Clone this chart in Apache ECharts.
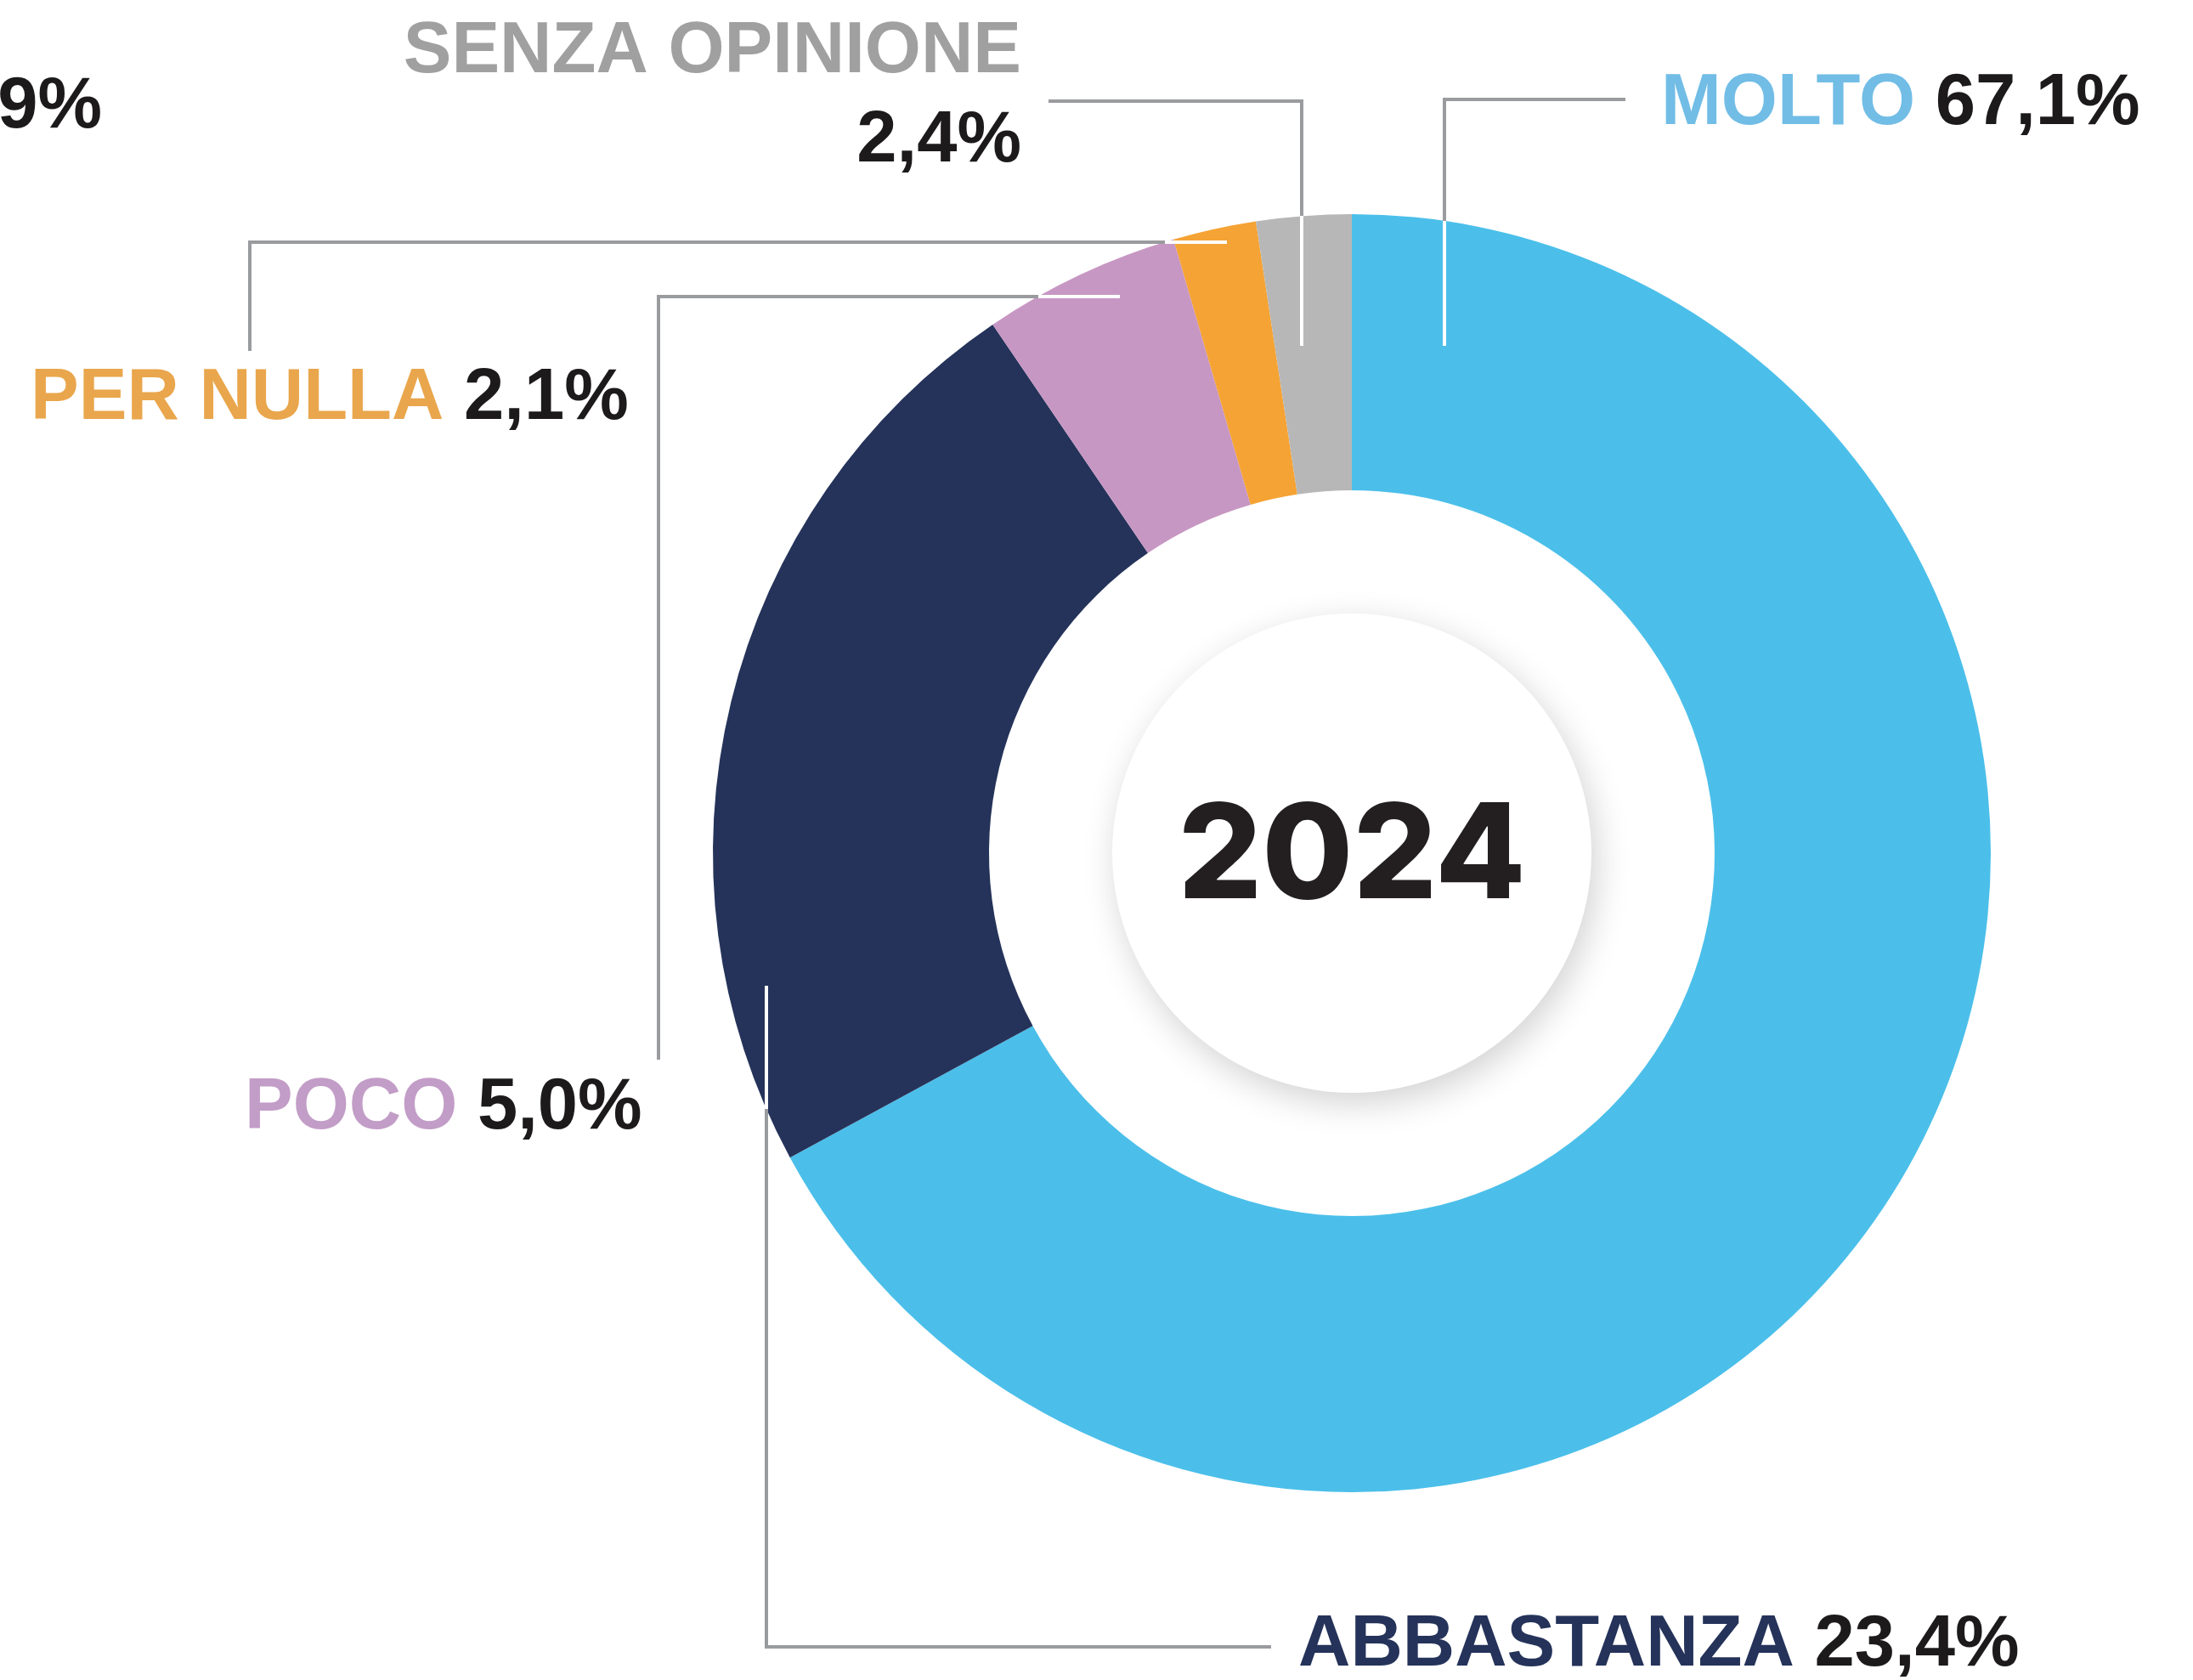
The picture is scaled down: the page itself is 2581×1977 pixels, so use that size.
<!DOCTYPE html>
<html>
<head>
<meta charset="utf-8">
<script src="https://cdn.jsdelivr.net/npm/echarts@6/dist/echarts.min.js"></script>
<style>html,body{margin:0;padding:0;background:#fff}#c{width:2581px;height:1977px}</style>
</head>
<body>
<div id="c"></div>
<script>
// ---- data ----
const categories = ['MOLTO', 'ABBASTANZA', 'POCO', 'PER NULLA', 'SENZA OPINIONE'];
const values = [67.1, 23.4, 5.0, 2.1, 2.4];
const yearLabel = '2024';
const partialLabel = '9%';

// ---- styles ----
const sliceColors = ['#4BBFEA', '#25335A', '#C797C3', '#F5A334', '#B7B7B7'];
const nameColors = ['#71BDE6', '#25335A', '#C29DC7', '#E9A64C', '#A0A0A0'];
const valueColor = '#1C1A1B';
const lineGray = '#9A9B9F';
const FONT = '"Liberation Sans", Arial, sans-serif';
const FS = 85;
const CX = 1591, CY = 1004, R_IN = 427, R_OUT = 752, R_HUB = 282;

// label anchors (layout)
const labelPos = [
  {x: 1955, y: 123, align: 'left'},
  {x: 1528, y: 1937, align: 'left'},
  {x: 288, y: 1305, align: 'left'},
  {x: 36, y: 470, align: 'left'},
  {x: 1202, y: 114, align: 'right'}
];
// leader lines (layout)
const grayLines = [
  [[1700, 260], [1700, 117], [1913, 117]],
  [[902, 1305], [902, 1938], [1496, 1938]],
  [[1222, 349], [775, 349], [775, 1247]],
  [[1371, 285], [294, 285], [294, 413]],
  [[1532, 254], [1532, 119], [1234, 119]]
];
const whiteLines = [
  [[1700, 260], [1700, 407]],
  [[902, 1160], [902, 1305]],
  [[1222, 349], [1318, 349]],
  [[1371, 285], [1444, 285]],
  [[1532, 254], [1532, 407]]
];

const fmt = v => v.toFixed(1).replace('.', ',') + '%';

const rich = { v: {color: valueColor, fontSize: FS, fontWeight: 'bold', fontFamily: FONT, lineHeight: 105} };
nameColors.forEach((c, i) => {
  rich['n' + i] = {color: c, fontSize: FS, fontWeight: 'bold', fontFamily: FONT, lineHeight: 105};
});

const chart = echarts.init(document.getElementById('c'), null, {renderer: 'canvas'});

const graphics = [];
grayLines.forEach(pts => graphics.push({
  type: 'polyline', silent: true, z: 100,
  shape: {points: pts},
  style: {stroke: lineGray, lineWidth: 4, fill: null, lineJoin: 'miter', lineCap: 'butt'}
}));
whiteLines.forEach(pts => graphics.push({
  type: 'polyline', silent: true, z: 101,
  shape: {points: pts},
  style: {stroke: '#ffffff', lineWidth: 4, fill: null, lineCap: 'butt'}
}));
graphics.push({
  type: 'text', silent: true, z: 100,
  x: 120, y: 127,
  style: {text: partialLabel, fill: valueColor, fontSize: FS, fontWeight: 'bold', fontFamily: FONT,
          align: 'right', verticalAlign: 'middle'}
});

chart.setOption({
  animation: false,
  backgroundColor: '#ffffff',
  graphic: graphics,
  series: [
    {
      type: 'pie',
      center: [CX, CY],
      radius: [R_IN, R_OUT],
      startAngle: 90,
      clockwise: true,
      avoidLabelOverlap: false,
      silent: true,
      emphasis: {disabled: true},
      itemStyle: {borderWidth: 0},
      data: categories.map((c, i) => ({
        name: c, value: values[i],
        itemStyle: {color: sliceColors[i]},
        label: {align: labelPos[i].align}
      })),
      label: {
        show: true,
        position: 'outside',
        fontSize: FS,
        fontWeight: 'bold',
        fontFamily: FONT,
        formatter: p => {
          const i = p.dataIndex;
          if (i === 4) return '{n4|' + p.name + '}\n{v|' + fmt(p.value) + '}';
          return '{n' + i + '|' + p.name + '}{v|\u00a0' + fmt(p.value) + '}';
        },
        rich: rich
      },
      labelLine: {show: false},
      labelLayout: params => {
        const lp = labelPos[params.dataIndex];
        return {x: lp.x, y: lp.y, align: lp.align, verticalAlign: 'middle'};
      }
    },
    {
      type: 'pie',
      center: [CX, CY],
      radius: [0, R_HUB],
      silent: true,
      emphasis: {disabled: true},
      data: [{name: yearLabel, value: 1}],
      itemStyle: {
        color: '#ffffff',
        shadowBlur: 40,
        shadowColor: 'rgba(0,0,0,0.18)',
        shadowOffsetX: 6,
        shadowOffsetY: 12
      },
      label: {
        show: true,
        position: 'center',
        formatter: '{b}',
        color: '#231F20',
        fontSize: 155,
        fontWeight: 800,
        fontFamily: 'Inter, "Liberation Sans", sans-serif',
        offset: [0, 6]
      },
      labelLine: {show: false}
    }
  ]
});
</script>
</body>
</html>
